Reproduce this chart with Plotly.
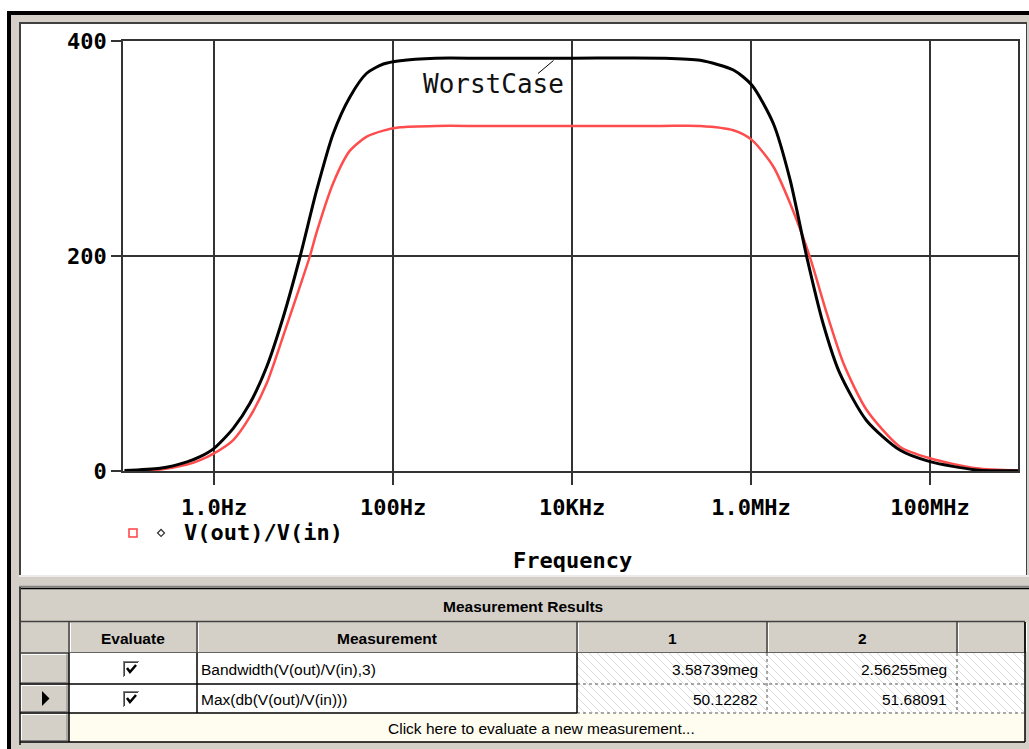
import plotly.graph_objects as go

W, H = 1029, 749

# ---------------- data ----------------
freq_nom = [0.1, 0.25, 0.5, 0.7, 1, 1.64, 2.52, 3.88, 5.95, 9.14, 11.8, 14.0, 21.5, 33, 50.8, 78,
            120, 300, 1e3, 1e4, 1e5, 2.7e5, 6.35e5, 1.02e6, 1.78e6, 2.73e6, 4.55e6, 7.0e6,
            1.08e7, 1.95e7, 4.6e7, 1e8, 3.3e8, 1e9]
mag_nom = [0.3, 1.5, 6, 10.2, 16.4, 28.8, 50.5, 81.6, 126, 172, 200, 222, 268, 298, 311,
           316.6, 319.7, 321, 321, 321, 321, 321, 317, 308, 283, 249, 199, 147,
           100, 57, 22.6, 11.8, 2.5, 0.4]

freq_worst = [0.1, 0.25, 0.5, 0.7, 1, 1.64, 2.52, 3.88, 5.95, 9.14, 14.0, 21.5, 33, 50.8, 78,
              120, 300, 1e3, 1e4, 1e5, 2.7e5, 6.35e5, 1.02e6, 1.78e6, 2.73e6, 4.2e6, 6.4e6,
              9.8e6, 1.95e7, 4.6e7, 1e8, 3.3e8, 1e9]
mag_worst = [0.5, 2.5, 8.5, 13.3, 21.1, 39.7, 63, 97, 143.5, 199.3, 261, 314, 348, 370, 378.6,
             381.7, 384, 384, 384, 384, 382, 373, 359, 323, 271, 199, 137,
             91, 47, 19.5, 8.7, 1, 0.2]

x_tickvals = [1, 100, 1e4, 1e6, 1e8]
x_ticktext = ["1.0Hz", "100Hz", "10KHz", "1.0MHz", "100MHz"]
y_tickvals = [0, 200, 400]
y_ticktext = ["0", "200", "400"]

trace_name = "V(out)/V(in)"
worst_label = "WorstCase"
x_title = "Frequency"

table_title = "Measurement Results"
table_headers = ["Evaluate", "Measurement", "1", "2"]
measurements = ["Bandwidth(V(out)/V(in),3)", "Max(db(V(out)/V(in)))"]
results_run1 = ["3.58739meg", "50.12282"]
results_run2 = ["2.56255meg", "51.68091"]
new_row_text = "Click here to evaluate a new measurement..."

# ---------------- helpers ----------------
def px(x):
    return x / W


def py(y):
    return 1 - y / H


GRAY = "#d4d0c8"
DARK = "#404040"
MONO = "DejaVu Sans Mono"
SANS = "Liberation Sans"

shapes = []
annotations = []


def rect(x0, y0, x1, y1, fill, line=None, lw=0, layer="below"):
    shapes.append(dict(type="rect", xref="paper", yref="paper",
                       x0=px(x0), x1=px(x1), y0=py(y1), y1=py(y0),
                       fillcolor=fill, line=dict(color=line or fill, width=lw),
                       layer=layer))


def hline(x0, x1, y, color, w=1, dash="solid"):
    shapes.append(dict(type="line", xref="paper", yref="paper",
                       x0=px(x0), x1=px(x1), y0=py(y), y1=py(y),
                       line=dict(color=color, width=w, dash=dash)))


def vline(x, y0, y1, color, w=1, dash="solid"):
    shapes.append(dict(type="line", xref="paper", yref="paper",
                       x0=px(x), x1=px(x), y0=py(y0), y1=py(y1),
                       line=dict(color=color, width=w, dash=dash)))


def text(x, y, s, size, family, bold=False, xanchor="center", color="black"):
    annotations.append(dict(xref="paper", yref="paper", x=px(x), y=py(y),
                            text=("<b>%s</b>" % s) if bold else s, showarrow=False,
                            xanchor=xanchor, yanchor="middle",
                            font=dict(size=size, family=family, color=color)))


# ---------------- window frame ----------------
rect(7, 11, W, H, GRAY)
rect(7, 11, W, 15, "black")
rect(7, 11, 11, H, "black")
rect(19, 22, 1027, 575, DARK)
rect(21, 24, 1026, 575, "white")
hline(19, W, 576, "#f4f4f4", 1.5)
hline(19, W, 586.5, "#808080", 1.5)
hline(19, W, 588.5, "black", 1.5)
vline(20, 587, 745, DARK, 2)

# ---------------- measurement table ----------------
text(523, 606, table_title, 15.5, SANS, bold=True)
hline(20, 1025, 621.5, DARK, 1.5)
col_x = [20, 69, 197, 577, 767, 957, 1025]
for cx in col_x[1:]:
    vline(cx, 622, 653, DARK, 1.5)
    vline(cx + 1.5, 623, 652, "white", 1)
hline(20, 1025, 653, DARK, 1.5)
header_centers = [133, 387, 672, 862]
for hx, htxt in zip(header_centers, table_headers):
    text(hx, 638, htxt, 15.5, SANS, bold=True)

row_y = [653, 684, 713, 742]
rect(69, 653, 577, 713, "white", layer="above")
rect(577, 653, 1025, 713, "white", layer="above")
segs = []
c = 577 - 60
while c < 1025:
    t0 = max(0, 577 - c)
    t1 = min(60, 1025 - c)
    if t1 > t0:
        segs.append("M%.4f,%.4f L%.4f,%.4f" % (px(c + t0), py(653 + t0), px(c + t1), py(653 + t1)))
    c += 8
shapes.append(dict(type="path", xref="paper", yref="paper", path=" ".join(segs),
                   line=dict(color="#dcdcdc", width=1)))
rect(69, 713, 1025, 742, "#fffcf0", layer="above")
for i in range(3):
    y0, y1 = row_y[i], row_y[i + 1]
    hline(21, 68, y0 + 1.5, "white", 1)
    vline(21.5, y0 + 1, y1 - 1, "white", 1)
    hline(21, 68, y1 - 1.5, "#808080", 1)
    vline(67, y0 + 1, y1 - 1, "#808080", 1)
hline(20, 577, 684, "black", 1.5)
hline(577, 1025, 684, "#555555", 1, "dot")
hline(20, 577, 713, "black", 1.5)
hline(577, 1025, 713, "#555555", 1, "dot")
hline(20, 1025, 742, "black", 1.5)
vline(69, 653, 742, "black", 1.5)
vline(197, 653, 713, "black", 1.5)
vline(577, 653, 713, "black", 1.5)
vline(767, 653, 713, "#555555", 1, "dot")
vline(957, 653, 713, "#555555", 1, "dot")
vline(1025, 622, 742, "black", 1.5)

row_centers = [669, 699]
for i in range(2):
    yc = row_centers[i]
    rect(123, yc - 8, 139, yc + 8, "white", layer="above")
    hline(123, 139, yc - 7.5, "#808080", 1)
    vline(123.5, yc - 8, yc + 8, "#808080", 1)
    hline(124, 138, yc - 6.5, DARK, 1)
    vline(124.5, yc - 7, yc + 7, DARK, 1)
    shapes.append(dict(type="path", xref="paper", yref="paper",
                       path="M%.4f,%.4f L%.4f,%.4f L%.4f,%.4f" % (
                           px(127), py(yc - 1), px(130), py(yc + 3), px(136), py(yc - 4)),
                       line=dict(color="black", width=2.5)))
    text(199, yc, measurements[i], 15.5, SANS, xanchor="left")
    text(760, yc, results_run1[i], 15.5, SANS, xanchor="right")
    text(949, yc, results_run2[i], 15.5, SANS, xanchor="right")

shapes.append(dict(type="path", xref="paper", yref="paper",
                   path="M%.4f,%.4f L%.4f,%.4f L%.4f,%.4f Z" % (
                       px(42), py(691), px(42), py(706), px(49.5), py(698.5)),
                   fillcolor="black", line=dict(color="black", width=0)))
text(541, 728, new_row_text, 15.5, SANS)

# ---------------- plot decorations ----------------
rect(129, 529, 137, 537, "rgba(0,0,0,0)", line="#ff4040", lw=1.5, layer="above")
shapes.append(dict(type="path", xref="paper", yref="paper",
                   path="M%.4f,%.4f L%.4f,%.4f L%.4f,%.4f L%.4f,%.4f Z" % (
                       px(157.5), py(533), px(161), py(529.5), px(164.5), py(533), px(161), py(536.5)),
                   line=dict(color="#333333", width=1.2)))
text(182, 532, trace_name, 22, MONO, bold=True, xanchor="left")
text(572, 560, x_title, 22, MONO, bold=True)

text(421, 84, worst_label, 26, MONO, xanchor="left", color="#111111")
shapes.append(dict(type="line", xref="paper", yref="paper",
                   x0=px(538), y0=py(73.5), x1=px(553.5), y1=py(60.5),
                   line=dict(color="black", width=1)))

# ---------------- traces ----------------
fig = go.Figure()
fig.add_trace(go.Scatter(x=freq_nom, y=mag_nom, mode="lines", name=trace_name,
                         line=dict(color="#ff4d4d", width=2.5, shape="spline", smoothing=0.7),
                         showlegend=False))
fig.add_trace(go.Scatter(x=freq_worst, y=mag_worst, mode="lines", name=worst_label,
                         line=dict(color="black", width=3, shape="spline", smoothing=0.7),
                         showlegend=False))

axis_font = dict(family=MONO, size=22, color="black")
fig.update_layout(
    width=W, height=H, autosize=False,
    margin=dict(l=0, r=0, t=0, b=0, pad=0, autoexpand=False),
    paper_bgcolor="white", plot_bgcolor="white",
    showlegend=False,
    shapes=shapes, annotations=annotations,
    xaxis=dict(type="log", range=[-1.017, 8.983], domain=[px(123), px(1018)],
               tickvals=x_tickvals, ticktext=["<b>%s</b>" % t for t in x_ticktext],
               tickfont=axis_font, ticks="outside", ticklen=12, tickwidth=1.5,
               tickcolor="#333333", showgrid=True, gridcolor="#333333", gridwidth=1.5,
               showline=True, linecolor="#333333", linewidth=1.5, mirror=True,
               zeroline=False, ticklabelstandoff=4, fixedrange=True, automargin=False),
    yaxis=dict(range=[0, 400], domain=[py(471), py(41)],
               tickvals=y_tickvals, ticktext=["<b>%s</b>" % t for t in y_ticktext],
               tickfont=axis_font, ticks="outside", ticklen=10, tickwidth=1.5,
               tickcolor="#333333", showgrid=True, gridcolor="#333333", gridwidth=1.5,
               showline=True, linecolor="#333333", linewidth=1.5, mirror=True,
               zeroline=False, fixedrange=True, automargin=False),
)

fig.write_html("out.html", config={"displayModeBar": False},
               post_script="document.body.style.margin='0';document.body.style.padding='0';"
                           "document.documentElement.style.overflow='hidden';")
